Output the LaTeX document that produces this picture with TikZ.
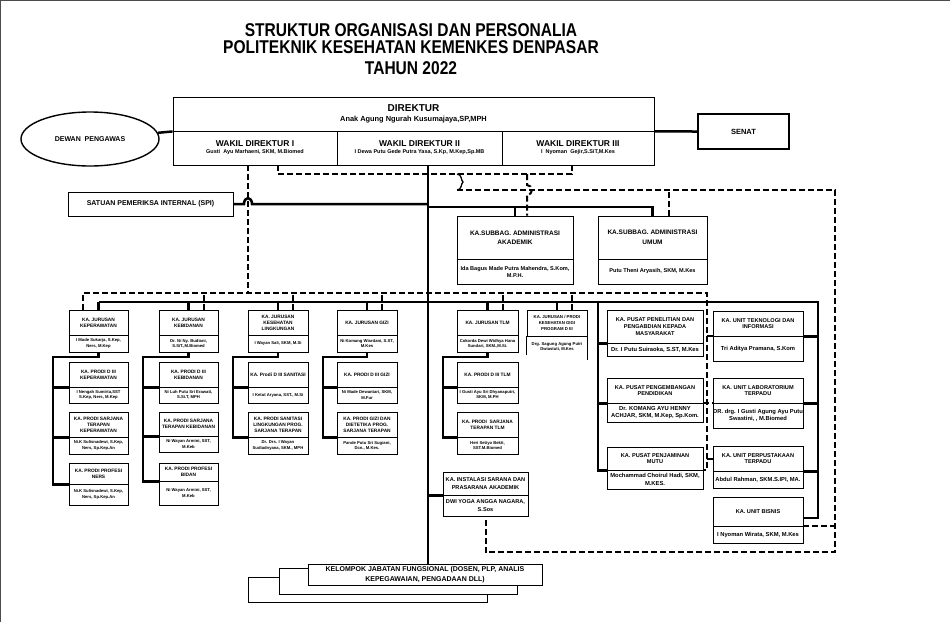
\documentclass[tikz,border=0pt]{standalone}
\usepackage{fontspec}
\setmainfont{Liberation Sans}
\usetikzlibrary{shapes.geometric}
\tikzset{
  conn/.style={line width=2.5pt},
  dline/.style={line width=2pt,dash pattern=on 6pt off 3pt},
  box/.style={draw,line width=0.9pt,inner sep=0pt,align=center},
  hdA/.style={box,font=\bfseries\fontsize{4.8}{5.9}\selectfont},
  nmA/.style={box,font=\bfseries\fontsize{4.2}{5.3}\selectfont},
  hdB/.style={box,font=\bfseries\fontsize{5.6}{6.8}\selectfont},
  nmB/.style={box,font=\bfseries\fontsize{5.8}{7.6}\selectfont},
  hdC/.style={box,font=\bfseries\fontsize{6.5}{9.5}\selectfont},
  nmC/.style={box,font=\bfseries\fontsize{5.6}{7}\selectfont},
  hdD/.style={box,font=\bfseries\fontsize{5.6}{7.5}\selectfont},
  nmD/.style={box,font=\bfseries\fontsize{5.6}{7.5}\selectfont},
  wk/.style={box,minimum height=34pt,font=\bfseries\fontsize{5.5}{7}\selectfont},
  ttl/.style={font=\bfseries\fontsize{18.5}{20}\selectfont,inner sep=0pt}
}
\newcommand{\twobox}[9][A]{%
\node[hd#1,minimum width={(#5-#3)*1pt},minimum height={(#6-#4)*1pt}] (#2) at ({(#3+#5)/2},{(#4+#6)/2}) {#8};
\node[nm#1,minimum width={(#5-#3)*1pt},minimum height={(#7-#6)*1pt}] (#2-n) at ({(#3+#5)/2},{(#6+#7)/2}) {#9};}
\newcommand{\narrow}[1]{\scalebox{0.84}[1]{#1}}
\begin{document}
\begin{tikzpicture}[x=1pt,y=-1pt]
\useasboundingbox (0,0) rectangle (950,622);
\fill[white] (0,0) rectangle (950,622);
\draw[line width=1.5pt,black!70] (0,622) -- (0,0) -- (950,0);

\node[ttl] (t1) at (411,30) {\narrow{STRUKTUR ORGANISASI DAN PERSONALIA}};
\node[ttl] (t2) at (411,47) {\narrow{POLITEKNIK KESEHATAN KEMENKES DENPASAR}};
\node[ttl] (t3) at (411,68) {\narrow{TAHUN 2022}};

\node[box,minimum width=481pt,minimum height=34pt,font=\bfseries\fontsize{7.4}{9}\selectfont] (dir) at (413.5,114)
  {{\fontsize{10}{12}\selectfont DIREKTUR}\\[1pt]Anak Agung Ngurah Kusumajaya,SP,MPH};
\node[wk,minimum width=164pt] (wd1) at (255,148) {{\fontsize{8.5}{10}\selectfont WAKIL DIREKTUR I}\\Gusti\ \ Ayu Marhaeni, SKM, M.Biomed};
\node[wk,minimum width=165pt] (wd2) at (419.5,148) {{\fontsize{8.5}{10}\selectfont WAKIL DIREKTUR II}\\I Dewa Putu Gede Putra Yasa, S.Kp, M.Kep,Sp.MB};
\node[wk,minimum width=152pt] (wd3) at (578,148) {{\fontsize{8.5}{10}\selectfont WAKIL DIREKTUR III}\\I\ \ Nyoman\ \ Gejir,S.SiT,M.Kes};
\node[draw,ellipse,line width=1.4pt,minimum width=138pt,minimum height=54pt,font=\bfseries\fontsize{7}{8}\selectfont] (dewas) at (90,139) {DEWAN\ \ PENGAWAS};
\node[box,line width=1.8pt,minimum width=91pt,minimum height=35pt,font=\bfseries\fontsize{7.5}{9}\selectfont] (senat) at (743.5,131.5) {SENAT};
\node[box,minimum width=165pt,minimum height=24pt,font=\bfseries\fontsize{7}{8}\selectfont] (spi) at (150.5,204) {SATUAN PEMERIKSA INTERNAL (SPI)};

\twobox[C]{akd}{457}{216}{573}{259}{284}{KA.SUBBAG. ADMINISTRASI\\AKADEMIK}{Ida Bagus Made Putra Mahendra, S.Kom,\\M.P.H.}
\twobox[C]{umum}{598}{216}{707}{259}{284}{KA.SUBBAG. ADMINISTRASI\\UMUM}{Putu Theni Aryasih, SKM, M.Kes}

\twobox{kep}{69}{310}{128}{335}{352}{KA. JURUSAN\\KEPERAWATAN}{I Made Sukarja, S.Kep,\\Ners, M.Kep}
\twobox{keb}{159}{310}{218}{335}{352}{KA. JURUSAN\\KEBIDANAN}{Dr. Ni Ny. Budiani,\\S.SiT.,M.Biomed}
\twobox{kesling}{248}{310}{308}{335}{352}{KA. JURUSAN\\KESEHATAN\\LINGKUNGAN}{I Wayan Sali, SKM, M.Si}
\twobox{gizi}{337}{310}{397}{335}{352}{KA. JURUSAN GIZI}{Ni Komang Wiardani, S.ST,\\M.Kes}
\twobox{tlm}{457}{310}{518}{335}{352}{KA. JURUSAN TLM}{Cokorda Dewi Widhya Hana\\Sundari, SKM.,M.Si.}
\node[hdA,font=\bfseries\fontsize{4.3}{5.6}\selectfont,minimum width=60pt,minimum height=26pt] (kg) at (557,323) {KA. JURUSAN / PRODI\\KESEHATAN GIGI\\PROGRAM D III};
\node[nmA,draw=none,minimum width=60pt,minimum height=21pt] (kg-n) at (557,346.5) {Drg. Sagung Agung Putri\\Dwiastuti, M.Kes};
\draw[line width=0.9pt] (kg-n.north west) -- ([yshift=2pt]kg-n.south west) (kg-n.north east) -- ([yshift=-3pt]kg-n.south east);

\twobox{kp1}{69}{362}{128}{387}{403}{KA. PRODI D III\\KEPERAWATAN}{I Nengah Sumirta,SST\\S.Kep, Ners, M.Kep}
\twobox{kp2}{69}{412}{128}{437}{454}{KA. PRODI SARJANA\\TERAPAN\\KEPERAWATAN}{Ni.K Sulisnadewi, S.Kep,\\Ners, Sp.Kep.An}
\twobox{kp3}{69}{463}{128}{484}{505}{KA. PRODI PROFESI\\NERS}{Ni.K Sulisnadewi, S.Kep,\\Ners, Sp.Kep.An}
\twobox{kb1}{159}{362}{218}{387}{403}{KA. PRODI D III\\KEBIDANAN}{Ni Luh Putu Sri Erawati,\\S.Si.T, MPH}
\twobox{kb2}{159}{412}{218}{436}{452}{KA. PRODI SARJANA\\TERAPAN KEBIDANAN}{Ni Wayan Armini, SST,\\M.Keb}
\twobox{kb3}{159}{463}{218}{481}{505}{KA. PRODI PROFESI\\BIDAN}{Ni Wayan Armini, SST,\\M.Keb}
\twobox{ks1}{248}{362}{308}{387}{403}{KA. Prodi D III SANITASI}{I Ketut Aryana, SST., M.Si}
\twobox{ks2}{248}{412}{308}{437}{454}{KA. PRODI SANITASI\\LINGKUNGAN PROG.\\SARJANA TERAPAN}{Dr. Drs. I Wayan\\Sudiadnyana, SKM., MPH}
\twobox{kz1}{337}{362}{397}{387}{403}{KA. PRODI D III GIZI}{Ni Made Dewantari, SKM,\\M.Fur}
\twobox{kz2}{337}{412}{397}{437}{454}{KA. PRODI GIZI DAN\\DIETETIKA PROG.\\SARJANA TERAPAN}{Pande Putu Sri Sugiani,\\Dcn., M.Kes.}
\twobox{kt1}{457}{362}{518}{387}{403}{KA. PRODI D III TLM}{I Gusti Ayu Sri Dhyanaputri,\\SKM, M.PH}
\twobox{kt2}{457}{412}{518}{437}{454}{KA. PRODI\ \ SARJANA\\TERAPAN TLM}{Heri Setiyo Bekti,\\SST.M.Biomed}

\twobox[D]{inst}{443}{472}{528}{495}{516}{KA. INSTALASI SARANA DAN\\PRASARANA AKADEMIK}{DWI YOGA ANGGA NAGARA,\\S.Sos}

\twobox[B]{pen}{607}{310}{703}{343}{356}{KA. PUSAT PENELITIAN DAN\\PENGABDIAN KEPADA\\MASYARAKAT}{Dr. I Putu Suiraoka, S.ST, M.Kes}
\twobox[B]{pgb}{607}{378}{703}{403}{422}{KA. PUSAT PENGEMBANGAN\\PENDIDIKAN}{Dr. KOMANG AYU HENNY\\ACHJAR, SKM, M.Kep, Sp.Kom.}
\twobox[B]{mutu}{607}{447}{703}{470}{489}{KA. PUSAT PENJAMINAN\\MUTU}{Mochammad Choirul Hadi, SKM,\\M.KES.}
\twobox[B]{ti}{713}{311}{803}{336}{361}{KA. UNIT TEKNOLOGI DAN\\INFORMASI}{Tri Aditya Pramana, S.Kom}
\twobox[B]{lab}{713}{378}{803}{403}{428}{KA. UNIT LABORATORIUM\\TERPADU}{DR. drg. I Gusti Agung Ayu Putu\\Swastini, , M.Biomed}
\twobox[B]{perpus}{713}{446}{803}{471}{488}{KA. UNIT PERPUSTAKAAN\\TERPADU}{Abdul Rahman, SKM.S.IPI, MA.}
\twobox[B]{bisnis}{713}{497}{803}{526}{543}{KA. UNIT BISNIS}{I Nyoman Wirata, SKM, M.Kes}

\draw[line width=0.8pt,fill=white] (248,577) rectangle (487,602);
\draw[line width=0.8pt,fill=white] (279,568) rectangle (517,594);
\node[box,fill=white,line width=0.8pt,minimum width=234pt,minimum height=21pt,font=\bfseries\fontsize{7}{9.5}\selectfont] (kel) at (425,574.5)
  {KELOMPOK JABATAN FUNGSIONAL (DOSEN, PLP, ANALIS\\KEPEGAWAIAN, PENGADAAN DLL)};

\coordinate (trunk) at (428,165);
\draw[conn] (dewas) -- (dir.south west);
\draw[conn] (dir.south east) -- (senat.west);
\draw[conn] (trunk) -- (trunk |- kel.north);
\draw[conn] (spi.east) -- (244,204) arc[start angle=180,end angle=0,x radius=4pt,y radius=6pt] -- (trunk |- spi.east);
\draw[conn] (trunk |- 0,207) -| (umum.north);
\draw[conn] (akd.north) -- (akd.north |- 0,207);
\draw[conn] (inst.south west) -- (trunk |- inst.south west);

\draw[dline] (wd1.south -| 278,0) |- (572,174) -- (wd3.south -| 572,0);
\draw[dline] (wd1.south -| 248,0) -- (248,293);
\draw[dline] (kep.north -| 83,0) |- (707,293) |- (mutu.south east);
\draw[line width=1.3pt] (457,174) .. controls (462,174) and (461,181) .. (463,182) .. controls (461,183) and (462,190) .. (457,190);
\draw[dline] (457,190) -| (835,552) -| (inst-n.south);
\draw[dline] (umum.north -| 669,0) -- (669,190);
\draw[dline] (527,174) -- (527,185) arc[start angle=90,end angle=-90,radius=5pt] -- (akd.north -| 527,0);
\foreach \bx in {keb,kesling,gizi,tlm,kg}
  \draw[dline] ([xshift=15pt]\bx.north) -- ([xshift=15pt]\bx.north |- 0,293);
\draw[dline] (707,0 |- ti.south west) -- (ti.south west);
\draw[dline] (pgb.south east) -- (lab.south west);
\draw[dline] (707,0 |- perpus.west) -- (perpus.west);
\draw[dline] (bisnis.south east) -- (835,0 |- bisnis.south east);

\foreach \bx in {kep,keb,kesling,gizi,tlm,kg}
  \draw[conn] (\bx.north) -- (\bx.north |- 0,302);
\draw[conn] (kep.north |- 0,302) -- (818,302) |- ([yshift=-6.5pt]bisnis.east);
\foreach \bx in {ti,lab,perpus}
  \draw[conn] (\bx.south east) -- (818,0 |- \bx.south east);
\draw[conn] (598,302) |- (mutu.south west);
\foreach \bx in {pen,pgb}
  \draw[conn] (598,0 |- \bx.south west) -- (\bx.south west);

\draw[conn] (kep-n.south) |- (53,357) |- (kp3.south west);
\foreach \bx in {kp1,kp2}
  \draw[conn] (53,0 |- \bx.south west) -- (\bx.south west);
\draw[conn] (keb-n.south) |- (143,357) |- (kb3.south west);
\foreach \bx in {kb1,kb2}
  \draw[conn] (143,0 |- \bx.south west) -- (\bx.south west);
\draw[conn] (kesling-n.south) |- (233,357) |- (ks2.south west);
\draw[conn] (233,0 |- ks1.south west) -- (ks1.south west);
\draw[conn] (gizi-n.south) |- (323,357) |- (kz2.south west);
\draw[conn] (323,0 |- kz1.south west) -- (kz1.south west);
\draw[conn] (tlm-n.south) |- (443,357) |- (kt2.south west);
\draw[conn] (443,0 |- kt1.south west) -- (kt1.south west);
\end{tikzpicture}
\end{document}
